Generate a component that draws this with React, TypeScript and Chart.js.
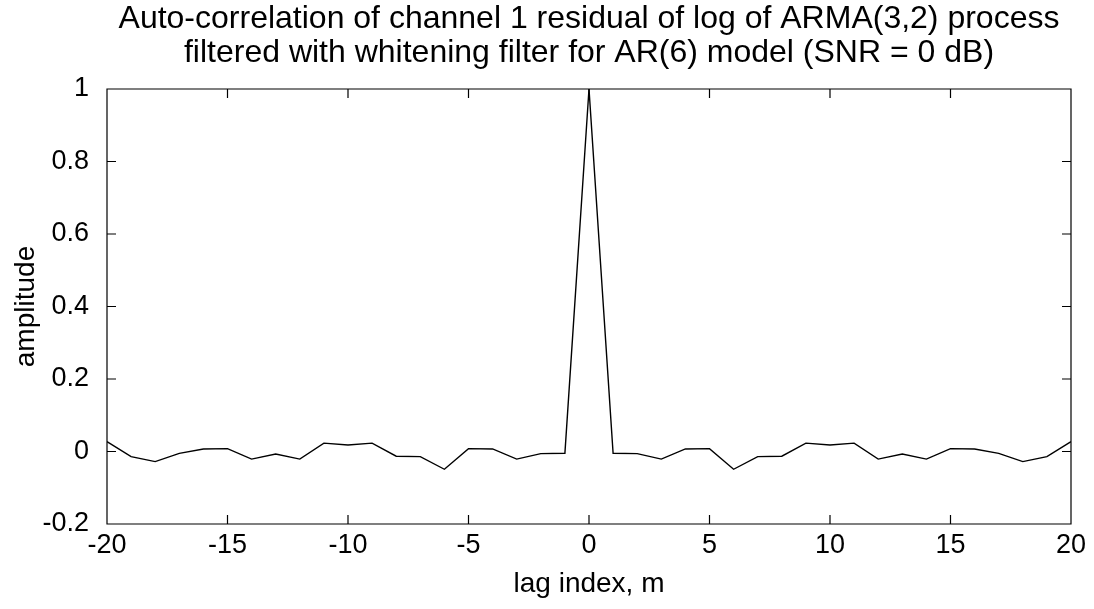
import React, { useEffect, useRef } from "react";
import { Chart, registerables } from "chart.js";

Chart.register(...registerables);

const titleLines = [
  "Auto-correlation of channel 1 residual of log of ARMA(3,2) process",
  "filtered with whitening filter for AR(6) model (SNR = 0 dB)",
];
const xLabel = "lag index, m";
const yLabel = "amplitude";

const lags = [
  -20, -19, -18, -17, -16, -15, -14, -13, -12, -11, -10, -9, -8, -7, -6, -5, -4, -3, -2, -1,
  0, 1, 2, 3, 4, 5, 6, 7, 8, 9, 10, 11, 12, 13, 14, 15, 16, 17, 18, 19, 20,
];
const amplitude = [
  0.027, -0.014, -0.028, -0.005, 0.007, 0.008, -0.021, -0.007, -0.021, 0.023, 0.018, 0.023, -0.013,
  -0.014, -0.049, 0.008, 0.007, -0.021, -0.006, -0.005,
  1.0,
  -0.005, -0.006, -0.021, 0.007, 0.008, -0.049, -0.014, -0.013, 0.023, 0.018, 0.023, -0.021, -0.007,
  -0.021, 0.008, 0.007, -0.005, -0.028, -0.014, 0.027,
];
const xTicks = [-20, -15, -10, -5, 0, 5, 10, 15, 20];
const yTicks = [-0.2, 0, 0.2, 0.4, 0.6, 0.8, 1];

const FONT = "'Liberation Sans', Arial, Helvetica, sans-serif";

const boxPlugin = {
  id: "matlabBox",
  afterDraw(chart: any) {
    const { ctx, chartArea, scales } = chart;
    const { left, right, top, bottom } = chartArea;
    const tl = 9;
    ctx.save();
    ctx.strokeStyle = "#000";
    ctx.lineWidth = 1.2;
    ctx.beginPath();
    ctx.rect(left, top, right - left, bottom - top);
    for (const v of xTicks) {
      const px = scales.x.getPixelForValue(v);
      ctx.moveTo(px, bottom);
      ctx.lineTo(px, bottom - tl);
      ctx.moveTo(px, top);
      ctx.lineTo(px, top + tl);
    }
    for (const v of yTicks) {
      const py = scales.y.getPixelForValue(v);
      ctx.moveTo(left, py);
      ctx.lineTo(left + tl, py);
      ctx.moveTo(right, py);
      ctx.lineTo(right - tl, py);
    }
    ctx.stroke();
    ctx.restore();
  },
};

export default function App() {
  const ref = useRef<HTMLCanvasElement | null>(null);

  useEffect(() => {
    if (!ref.current) return;
    const chart = new Chart(ref.current, {
      type: "line",
      data: {
        datasets: [
          {
            data: lags.map((x, i) => ({ x, y: amplitude[i] })),
            borderColor: "#000",
            borderWidth: 1.4,
            pointRadius: 0,
            tension: 0,
            fill: false,
          },
        ],
      },
      options: {
        responsive: false,
        animation: false,
        layout: { padding: { left: 0, right: 23, top: 0, bottom: 0 } },
        plugins: {
          legend: { display: false },
          tooltip: { enabled: false },
          title: {
            display: true,
            text: titleLines,
            fullSize: false,
            color: "#000",
            font: { family: FONT, size: 32, weight: "normal", lineHeight: 1.0625 },
            padding: { top: 2.5, bottom: 18.5 },
          },
        },
        scales: {
          x: {
            type: "linear",
            min: -20,
            max: 20,
            afterBuildTicks: (s: any) => {
              s.ticks = xTicks.map((v) => ({ value: v }));
            },
            afterFit: (s: any) => {
              s.height = 85;
            },
            grid: { display: false },
            border: { display: false },
            ticks: {
              color: "#000",
              font: { family: FONT, size: 27, lineHeight: 1.0 },
              padding: 0,
              maxRotation: 0,
              autoSkip: false,
            },
            title: {
              display: true,
              text: xLabel,
              color: "#000",
              font: { family: FONT, size: 28 },
              padding: { top: 0, bottom: 8 },
            },
          },
          y: {
            type: "linear",
            min: -0.2,
            max: 1,
            afterBuildTicks: (s: any) => {
              s.ticks = yTicks.map((v) => ({ value: v }));
            },
            afterFit: (s: any) => {
              s.width = 107;
            },
            grid: { display: false },
            border: { display: false },
            ticks: {
              color: "#000",
              font: { family: FONT, size: 27 },
              padding: 10,
              autoSkip: false,
              callback: (v: any) => String(Math.round(Number(v) * 10) / 10),
            },
            title: {
              display: true,
              text: yLabel,
              color: "#000",
              font: { family: FONT, size: 28 },
              padding: { top: 9, bottom: 0 },
            },
          },
        },
      },
      plugins: [boxPlugin],
    });
    return () => chart.destroy();
  }, []);

  return (
    <div style={{ position: "absolute", left: 0, top: 0, width: 1094, height: 609, background: "#fff" }}>
      <canvas ref={ref} width={1094} height={609} />
    </div>
  );
}
